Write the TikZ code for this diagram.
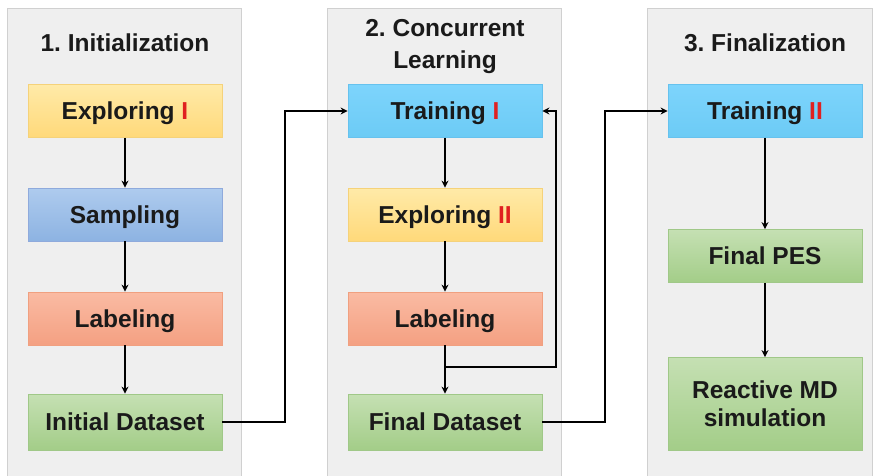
\documentclass[tikz,border=0pt]{standalone}
\usepackage{fontspec}
\setmainfont{Liberation Sans}
\usetikzlibrary{arrows.meta}
\frenchspacing
\definecolor{panelfill}{HTML}{EFEFEF}
\definecolor{panelline}{HTML}{D0D0D0}
\definecolor{txt}{HTML}{1A1A1A}
\definecolor{redI}{HTML}{E02020}
\definecolor{expT}{HTML}{FFEAA8}
\definecolor{expB}{HTML}{FFD97A}
\definecolor{expL}{HTML}{F5D27A}
\definecolor{samT}{HTML}{AECBEE}
\definecolor{samB}{HTML}{8DB3E2}
\definecolor{samL}{HTML}{8FAADC}
\definecolor{labT}{HTML}{FABBA3}
\definecolor{labB}{HTML}{F4A082}
\definecolor{labL}{HTML}{F0A080}
\definecolor{grnT}{HTML}{C5E0B3}
\definecolor{grnB}{HTML}{A3CD88}
\definecolor{grnL}{HTML}{A0C888}
\definecolor{trnT}{HTML}{7DD4FC}
\definecolor{trnB}{HTML}{6CCBF5}
\definecolor{trnL}{HTML}{66C2EE}
\tikzset{
  panel/.style={fill=panelfill, draw=panelline, line width=1pt},
  boxbase/.style={minimum width=194pt, minimum height=53pt, inner sep=0pt,
     text=txt, font=\fontsize{24.5}{28}\selectfont\bfseries, align=center, line width=0.8pt},
  oneline/.style={text height=17.6pt, text depth=0pt},
  expbox/.style={boxbase, oneline, top color=expT, bottom color=expB, draw=expL},
  sambox/.style={boxbase, oneline, top color=samT, bottom color=samB, draw=samL},
  labbox/.style={boxbase, oneline, top color=labT, bottom color=labB, draw=labL},
  grnbox/.style={boxbase, oneline, top color=grnT, bottom color=grnB, draw=grnL},
  grnbigbox/.style={boxbase, top color=grnT, bottom color=grnB, draw=grnL},
  trnbox/.style={boxbase, oneline, top color=trnT, bottom color=trnB, draw=trnL},
  ttl/.style={text=txt, font=\fontsize{24.5}{32}\selectfont\bfseries, align=center, inner sep=0pt},
  conn/.style={draw=black, line width=1.8pt},
  arr/.style={conn, -{Stealth[length=7pt,width=7pt]}},
}
\newcommand{\redmark}[1]{\textcolor{redI}{#1}}
\begin{document}
\begin{tikzpicture}[x=1pt,y=-1pt]
\useasboundingbox (0,0) rectangle (878,475);
\fill[white] (0,0) rectangle (878,475);
% panels
\draw[panel] (7,8) rectangle (241,480);
\draw[panel] (327,8) rectangle (561,480);
\draw[panel] (647,8) rectangle (872,480);
% titles
\node[ttl] (t1) at (125,43) {1. Initialization};
\node[ttl] (t2) at (445,47) {2. Concurrent\\Learning};
\node[ttl] (t3) at (765,43) {3. Finalization};
% panel 1
\node[expbox] (exp1) at (125,111) {Exploring \redmark{I}};
\node[sambox] (sam1) at (125,214.5) {Sampling};
\node[labbox] (lab1) at (125,318.5) {Labeling};
\node[grnbox, minimum height=56pt] (ids) at (125,422) {Initial Dataset};
% panel 2
\node[trnbox] (tr1) at (445,111) {Training \redmark{I}};
\node[expbox] (exp2) at (445,214.5) {Exploring \redmark{II}};
\node[labbox] (lab2) at (445,318.5) {Labeling};
\node[grnbox, minimum height=56pt] (fds) at (445,422) {Final Dataset};
% panel 3
\node[trnbox] (tr2) at (765,111) {Training \redmark{II}};
\node[grnbox] (pes) at (765,256) {Final PES};
\node[grnbigbox, minimum height=93pt] (rmd) at (765,404) {Reactive MD\\simulation};
% vertical arrows
\draw[arr] (exp1) -- (sam1);
\draw[arr] (sam1) -- (lab1);
\draw[arr] (lab1) -- (ids);
\draw[arr] (tr1) -- (exp2);
\draw[arr] (exp2) -- (lab2);
\draw[arr] (lab2) -- (fds);
\draw[arr] (tr2) -- (pes);
\draw[arr] (pes) -- (rmd);
% cross-panel connectors
\coordinate (j1) at (285,422);
\coordinate (j2) at (605,422);
\draw[arr] (ids.east) -- (j1) |- (tr1.west);
\draw[arr] (fds.east) -- (j2) |- (tr2.west);
% feedback loop
\coordinate (fb) at (445,367);
\coordinate (fbr) at (556,367);
\draw[arr] (fb) -- (fbr) |- (tr1.east);
\end{tikzpicture}
\end{document}
